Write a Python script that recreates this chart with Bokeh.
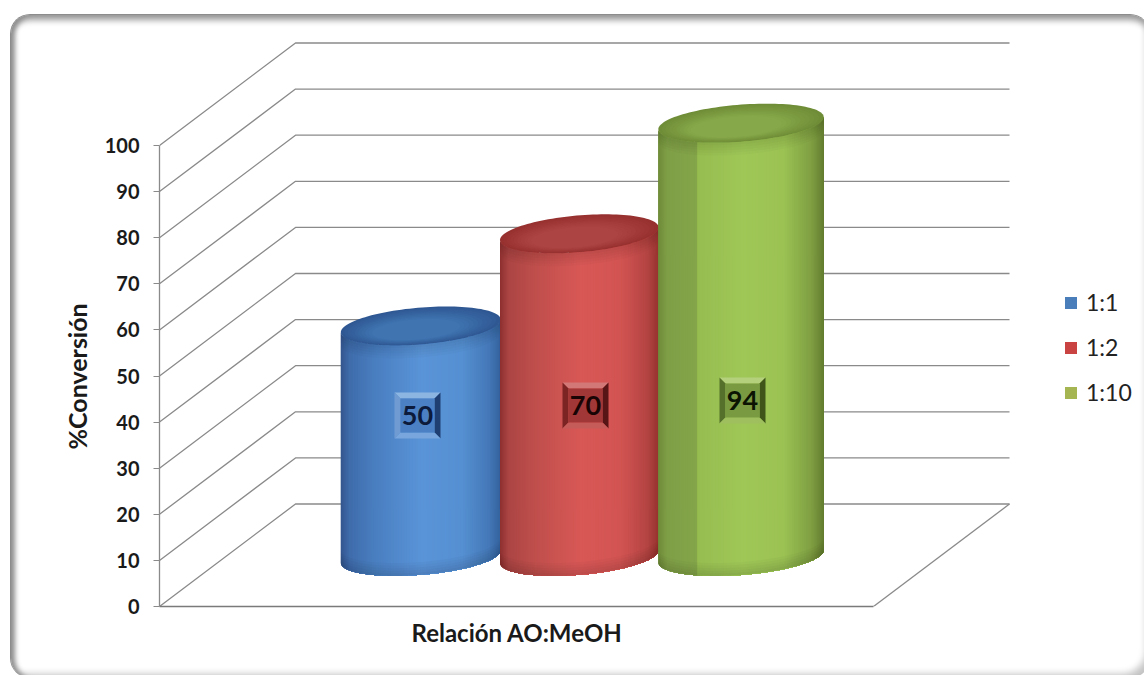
import math

from bokeh.core.properties import value
from bokeh.embed import file_html
from bokeh.models import (ColumnDataSource, FixedTicker, InlineStyleSheet, Legend, LegendItem,
                          LinearAxis, Range1d, Title)
from bokeh.plotting import figure
from bokeh.resources import INLINE

# Data
ratios = ["1:1", "1:2", "1:10"]
conversion = [50, 70, 94]
y_ticks = [0, 10, 20, 30, 40, 50, 60, 70, 80, 90, 100]
axis_x_title = "Relación AO:MeOH"
axis_y_title = "%Conversión"

# Canvas and plotting frame
WIDTH, HEIGHT = 1144, 675
FRAME_LEFT, FRAME_BOTTOM = 159, 606
PX_PER_U = 714.0      # pixels per unit of the floor width
PX_PER_V = 4.61       # pixels per percentage point

# Oblique projection of the chart's depth axis
DEPTH_X = 136 / PX_PER_U
DEPTH_Y = 102.5 / PX_PER_V

# Cylinder geometry, in floor units
CENTERS_U = [0.273, 0.495, 0.7215]
RADII_U = [0.106, 0.105, 0.110]
RADIUS_D = 0.19
CENTER_D = 0.488

GRID = "#8a8a8a"
TEXT = "#1a1a1a"
FONT = "Lato"

# Side-shading stops (position across the silhouette, colour)
SHADES = [
    [(0.0, "#35568f"), (0.05, "#3f6cab"), (0.22, "#4a80c2"), (0.5, "#5a94d8"),
     (0.75, "#5590d2"), (0.92, "#4478b8"), (1.0, "#34629c")],
    [(0.0, "#8f3130"), (0.05, "#ab4544"), (0.22, "#c04f4c"), (0.5, "#d85856"),
     (0.75, "#d25452"), (0.92, "#b54543"), (1.0, "#96342f")],
    [(0.0, "#708c3a"), (0.05, "#7f9f47"), (0.225, "#84a549"), (0.232, "#96bd50"),
     (0.5, "#9fc757"), (0.75, "#9bc253"), (0.92, "#7f9f42"), (1.0, "#647d30")],
]
# Top cap: colour at the rim and towards the front centre
CAP_RIM = ["#2f5893", "#973130", "#6f8d37"]
CAP_CORE = ["#3f74b1", "#ac4443", "#87a84a"]
LEGEND_COLORS = ["#4a7ebb", "#c94343", "#a5b552"]
BADGES = [
    dict(face="#4b80c4", top="#8db5e2", side="#6f9bd2", dark="#1f3f73", low="#79a6dc",
         text="#0c1a3c", cy=415),
    dict(face="#a23737", top="#d27876", side="#7c2424", dark="#571515", low="#c65c5a",
         text="#180404", cy=405),
    dict(face="#7a9a42", top="#b5d07c", side="#55702a", dark="#3f5419", low="#9fbf5f",
         text="#0b1403", cy=400),
]
BADGE_CX = [417, 585, 742]


def hex_rgb(c):
    return tuple(int(c[i:i + 2], 16) for i in (1, 3, 5))


def mix(c0, c1, k):
    a, b = hex_rgb(c0), hex_rgb(c1)
    return "#%02x%02x%02x" % tuple(round(a[i] + (b[i] - a[i]) * k) for i in range(3))


def ramp(stops, f):
    for (f0, c0), (f1, c1) in zip(stops, stops[1:]):
        if f <= f1:
            return mix(c0, c1, (f - f0) / (f1 - f0))
    return stops[-1][1]


def project(u, v, d):
    """Floor position u, height v and depth d to the figure's data coordinates."""
    return u + d * DEPTH_X, v + d * DEPTH_Y


def ring(cu, ru, v, t, scale=1.0, forward=0.0):
    return project(cu + scale * ru * math.cos(t), v,
                   CENTER_D - forward + scale * RADIUS_D * math.sin(t))


def screen_u(px):
    return (px - FRAME_LEFT) / PX_PER_U


def screen_v(py):
    return (FRAME_BOTTOM - py) / PX_PER_V


p = figure(
    width=WIDTH, height=HEIGHT, output_backend="svg", toolbar_location=None,
    x_axis_type=None, y_axis_type=None,
    x_range=Range1d(0, (WIDTH - FRAME_LEFT) / PX_PER_U),
    y_range=Range1d(0, FRAME_BOTTOM / PX_PER_V),
    min_border_left=FRAME_LEFT, min_border_right=0, min_border_top=0,
    min_border_bottom=HEIGHT - FRAME_BOTTOM,
    outline_line_color=None, background_fill_color=None, border_fill_color=None,
)
p.xgrid.visible = False
p.ygrid.visible = False

# Rounded card behind the canvas, with a soft inner bevel
p.stylesheets = [InlineStyleSheet(css="""
:host { background: #ffffff; overflow: hidden; }
:host::before {
  content: ""; position: absolute; left: 10px; top: 14px; width: 1140px; height: 664px;
  box-sizing: border-box; border-radius: 20px; background: #ffffff;
  border-top: 1px solid #8c8c8c; border-left: 1px solid #8c8c8c;
  box-shadow: inset 6px 0 5px -2px #8f8f8f, inset 0 8px 6px -3px #9a9a9a,
              inset -8px -8px 7px -4px #c4c4c4;
}
""")]

# Walls: a diagonal and a back line at every tick
wall_x, wall_y = [], []
for v in y_ticks:
    x1, y1 = project(0, v, 1)
    x2, y2 = project(1, v, 1)
    wall_x.append([0, x1, x2])
    wall_y.append([v, y1, y2])
p.multi_line(wall_x, wall_y, line_color=GRID, line_width=1.3)

# Right-hand floor edge
fx, fy = project(1, 0, 1)
p.line([1, fx], [0, fy], line_color=GRID, line_width=1.3)

# Cylinders, drawn in order so each one overlaps its left neighbour
for i, val in enumerate(conversion):
    cu, ru = CENTERS_U[i], RADII_U[i]
    tangent = math.atan2(RADIUS_D * DEPTH_X, ru)
    steps = 90
    lower = [tangent + math.pi + math.pi * k / steps for k in range(steps + 1)]
    top_arc = [ring(cu, ru, val, t) for t in lower]
    base_arc = [ring(cu, ru, 0, t) for t in lower]
    xl, xr = top_arc[0][0], top_arc[-1][0]

    # Each strip reaches the right-hand silhouette, so no seams show between strips
    xs, ys, colors = [], [], []
    for k in range(steps):
        xs.append([q[0] for q in top_arc[k:]] + [q[0] for q in reversed(base_arc[k:])])
        ys.append([q[1] for q in top_arc[k:]] + [q[1] for q in reversed(base_arc[k:])])
        colors.append(ramp(SHADES[i], (top_arc[k][0] - xl) / (xr - xl)))
    p.patches(xs, ys, fill_color=colors, line_color=None)

    # Soft darkening along the foot of the side wall
    foot_h = 2.6 / PX_PER_V
    for j in range(1, 6):
        fxs = [q[0] for q in base_arc] + [q[0] for q in reversed(base_arc)]
        fys = [q[1] for q in base_arc] + [q[1] + j * foot_h for q in reversed(base_arc)]
        p.patch(fxs, fys, fill_color="black", fill_alpha=0.022, line_color=None)

    # Soft darkening just below the top cap
    for j in range(1, 6):
        sxs = [q[0] for q in top_arc] + [q[0] for q in reversed(top_arc)]
        sys_ = [q[1] for q in top_arc] + [q[1] - j * foot_h for q in reversed(top_arc)]
        p.patch(sxs, sys_, fill_color="black", fill_alpha=0.018, line_color=None)

    # Top cap, shaded from the rim to a lighter core near the front
    layers = 10
    for j in range(layers):
        k = j / (layers - 1)
        cap = [ring(cu, ru, val, 2 * math.pi * n / 120, 1 - 0.45 * k, 0.035 * k) for n in range(120)]
        p.patch([q[0] for q in cap], [q[1] for q in cap],
                fill_color=mix(CAP_RIM[i], CAP_CORE[i], k), line_color=None)

# Value badges
half_x = 23 / PX_PER_U
half_y = 23 / PX_PER_V
bevel_x = 6 / PX_PER_U
bevel_y = 6 / PX_PER_V
for i, val in enumerate(conversion):
    b = BADGES[i]
    cx = screen_u(BADGE_CX[i])
    cy = screen_v(b["cy"])
    l, r, t, m = cx - half_x, cx + half_x, cy + half_y, cy - half_y
    il, ir, it, im = l + bevel_x, r - bevel_x, t - bevel_y, m + bevel_y
    p.patch([l, r, ir, il], [t, t, it, it], fill_color=b["top"], line_color=None)
    p.patch([l, il, il, l], [t, it, im, m], fill_color=b["side"], line_color=None)
    p.patch([r, ir, ir, r], [t, it, im, m], fill_color=b["dark"], line_color=None)
    p.patch([l, r, ir, il], [m, m, im, im], fill_color=b["low"], line_color=None)
    p.quad(left=il, right=ir, top=it, bottom=im, fill_color=b["face"], line_color=None)
    p.text([cx], [cy], text=[str(val)], text_align="center", text_baseline="middle",
           text_font=value(FONT), text_font_style="bold", text_font_size="27px",
           text_color=b["text"])

# Axes
y_axis = LinearAxis(
    ticker=FixedTicker(ticks=y_ticks), bounds=(0, 100),
    major_label_text_font=FONT, major_label_text_font_style="bold",
    major_label_text_font_size="20px", major_label_text_color=TEXT, major_label_standoff=14,
    axis_line_color=GRID, axis_line_width=1.3, major_tick_line_color=GRID,
    major_tick_in=0, major_tick_out=6, minor_tick_line_color=None,
)
p.add_layout(y_axis, "left")
x_axis = LinearAxis(
    ticker=FixedTicker(ticks=[]), bounds=(0, 1),
    axis_line_color="#7a7a7a", axis_line_width=1.6, major_tick_line_color=None,
    minor_tick_line_color=None, major_label_text_font_size="0px",
)
p.add_layout(x_axis, "below")

# Axis titles, offset along the frame so they centre on the axes' own spans
p.add_layout(Title(
    text=axis_x_title, align="left", offset=252, standoff=19,
    text_font=FONT, text_font_style="bold", text_font_size="24px", text_color=TEXT,
), "below")
p.add_layout(Title(
    text=axis_y_title, align="left", offset=157, standoff=20,
    text_font=FONT, text_font_style="bold", text_font_size="25px", text_color=TEXT,
), "left")

# Legend
items = []
for name, color in zip(ratios, LEGEND_COLORS):
    src = ColumnDataSource(dict(left=[float("nan")], right=[float("nan")],
                                top=[float("nan")], bottom=[float("nan")]))
    swatch = p.quad(left="left", right="right", top="top", bottom="bottom", source=src,
                    fill_color=color, line_color=None)
    items.append(LegendItem(label=name, renderers=[swatch]))
legend = Legend(
    items=items, location=(904, 200), orientation="vertical", spacing=17,
    glyph_width=15, glyph_height=15, label_standoff=8, label_height=23,
    label_text_font=FONT, label_text_font_size="23px", label_text_color="#222222",
    background_fill_alpha=0, border_line_color=None, padding=0, margin=0,
)
p.add_layout(legend, "center")

open("out.html", "w").write(file_html(p, INLINE))
